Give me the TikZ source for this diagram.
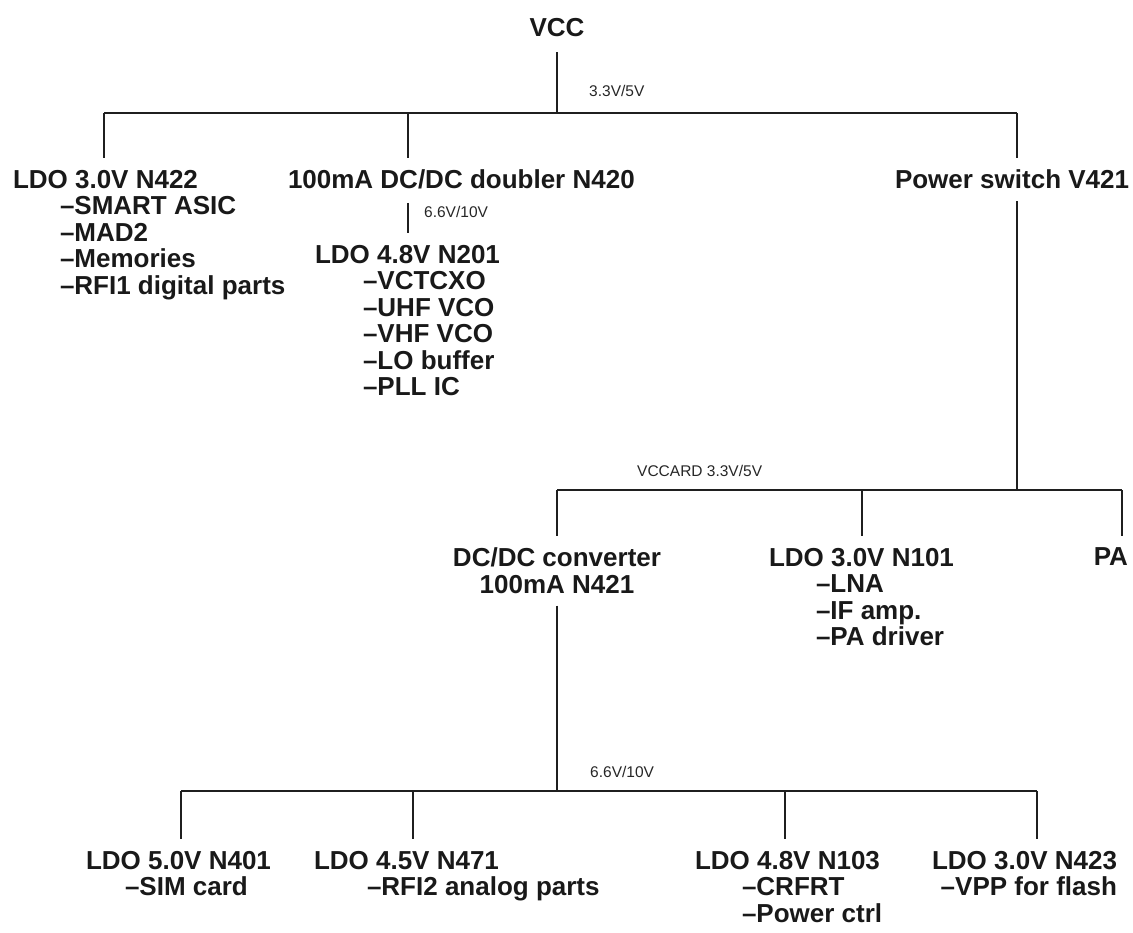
\documentclass[tikz,border=0pt]{standalone}
\usepackage{fontspec}
\setmainfont{Liberation Sans}
\begin{document}
\begin{tikzpicture}[x=1pt,y=-1pt,
  wire/.style={line width=2pt,draw=black!88},
  drop/.style={wire,shorten >=12pt},
  rise/.style={wire,shorten <=12pt},
  block/.style={inner sep=0pt,outer sep=0pt,align=left,font=\bfseries\fontsize{26}{26.5}\selectfont,text=black!90},
  volt/.style={inner sep=0pt,anchor=base west,font=\fontsize{15.5}{16}\selectfont,text=black!85}]
\useasboundingbox (0,0) rectangle (1133,933);
% top
\node[block,anchor=base] (vcc) at (557,37) {VCC};
\coordinate (j0) at (557,113);
\node[volt] (v1) at (589,97) {3.3V/5V};
% level 1
\node[block,anchor=north west] (n422) at (13,170) {LDO 3.0V N422\\\hspace*{47pt}–SMART ASIC\\\hspace*{47pt}–MAD2\\\hspace*{47pt}–Memories\\\hspace*{47pt}–RFI1 digital parts};
\node[block,anchor=north west] (n420) at (288,170) {100mA DC/DC doubler N420};
\node[block,anchor=north west] (v421) at (895,170) {Power switch V421};
\coordinate (j1) at (104,113);
\coordinate (j2) at (408,113);
\coordinate (j3) at (1017,113);
\draw[wire] (vcc.south) ++(0,15) coordinate (vs) -- (j0);
\draw[wire] (j1) -- (j3);
\draw[drop] (j1) -- (j1 |- n422.north);
\draw[drop] (j2) -- (j2 |- n420.north);
\draw[drop] (j3) -- (j3 |- v421.north);
% N201
\node[block,anchor=north west] (n201) at (315,245) {LDO 4.8V N201\\\hspace*{48pt}–VCTCXO\\\hspace*{48pt}–UHF VCO\\\hspace*{48pt}–VHF VCO\\\hspace*{48pt}–LO buffer\\\hspace*{48pt}–PLL IC};
\coordinate (a201) at (408,203);
\coordinate (b201) at (408,233);
\draw[wire] (a201) -- (b201);
\node[volt] (v2) at (424,218) {6.6V/10V};
% level 2
\coordinate (k0) at (1017,490);
\coordinate (k1) at (557,490);
\coordinate (k2) at (862,490);
\coordinate (k3) at (1122,490);
\draw[rise] (v421.south -| k0) -- (k0);
\draw[wire] (k1) -- (k3);
\node[volt] (v3) at (637,476) {VCCARD 3.3V/5V};
\node[block,anchor=north,align=center] (n421) at (557,548) {DC/DC converter\\100mA N421};
\node[block,anchor=north west] (n101) at (769,548) {LDO 3.0V N101\\\hspace*{47pt}–LNA\\\hspace*{47pt}–IF amp.\\\hspace*{47pt}–PA driver};
\node[block,anchor=north east] (pa) at (1128,548) {PA};
\draw[drop] (k1) -- (k1 |- n421.north);
\draw[drop] (k2) -- (k2 |- n101.north);
\draw[drop] (k3) -- (k3 |- pa.north);
% level 3
\coordinate (m0) at (557,791);
\coordinate (m1) at (181,791);
\coordinate (m2) at (413,791);
\coordinate (m3) at (785,791);
\coordinate (m4) at (1037,791);
\draw[rise] (n421.south) -- (m0);
\draw[wire] (m1) -- (m4);
\node[volt] (v4) at (590,777) {6.6V/10V};
\node[block,anchor=north west] (n401) at (86,851) {LDO 5.0V N401\\\hspace*{39pt}–SIM card};
\node[block,anchor=north west] (n471) at (314,851) {LDO 4.5V N471\\\hspace*{53pt}–RFI2 analog parts};
\node[block,anchor=north west] (n103) at (695,851) {LDO 4.8V N103\\\hspace*{47pt}–CRFRT\\\hspace*{47pt}–Power ctrl};
\node[block,anchor=north east,align=right] (n423) at (1117,851) {LDO 3.0V N423\\–VPP for flash};
\draw[drop] (m1) -- (m1 |- n401.north);
\draw[drop] (m2) -- (m2 |- n471.north);
\draw[drop] (m3) -- (m3 |- n103.north);
\draw[drop] (m4) -- (m4 |- n423.north);
\end{tikzpicture}
\end{document}
